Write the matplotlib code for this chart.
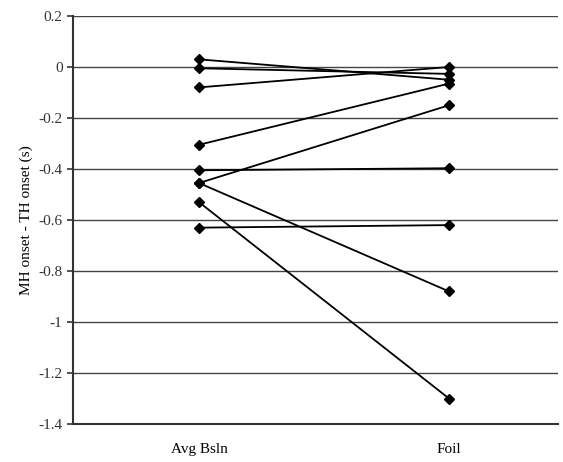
import matplotlib.pyplot as plt
import numpy as np

plt.rcParams['font.family'] = 'Liberation Serif'

conditions = ['Avg Bsln', 'Foil']
# one row per subject: baseline, foil
avg_bsln = [0.03, -0.005, -0.08, -0.305, -0.405, -0.455, -0.455, -0.53, -0.63]
foil = [-0.05, -0.027, 0.0, -0.065, -0.397, -0.15, -0.88, -1.30, -0.62]

fig = plt.figure(figsize=(5.63, 4.62), dpi=100)
ax = fig.add_axes([73 / 563, 1 - 424 / 462, 485 / 563, 408 / 462])

x = np.arange(len(conditions))
for b, f in zip(avg_bsln, foil):
    ax.plot(x, [b, f], color='black', lw=1.3, marker='D', ms=5, zorder=3)

ax.set_ylim(-1.4, 0.2)
ax.set_xlim(-0.504, 1.436)
ax.set_yticks(np.arange(-1.4, 0.21, 0.2))
ax.set_yticklabels(['-1.4', '-1.2', '-1', '-0.8', '-0.6', '-0.4', '-0.2', '0', '0.2'])
ax.yaxis.grid(True, color='#444444', lw=1.0)
ax.set_axisbelow(True)
ax.set_xticks(x)
ax.set_xticklabels(conditions)
ax.tick_params(axis='x', length=0, pad=14, labelsize=11)
ax.tick_params(axis='y', length=4, width=1.2, labelsize=11, direction='out', colors='#333333')
ax.set_ylabel('MH onset - TH onset (s)', fontsize=11)
for s in ['top', 'right']:
    ax.spines[s].set_visible(False)
for s in ['left', 'bottom']:
    ax.spines[s].set_linewidth(1.5)
    ax.spines[s].set_color('#333333')

fig.savefig('out.png', dpi=100)
